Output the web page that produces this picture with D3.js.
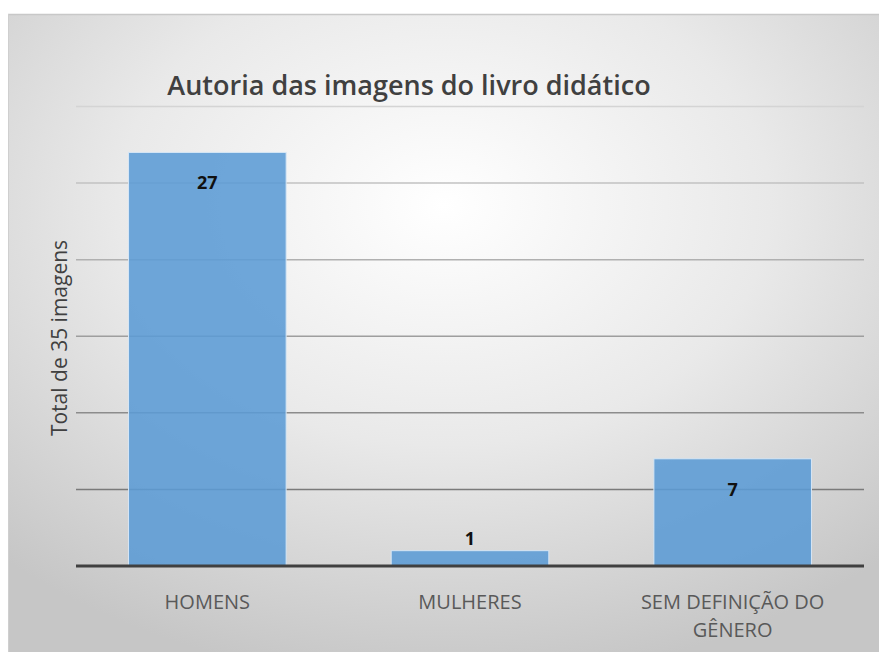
<!DOCTYPE html>
<html>
<head>
<meta charset="utf-8">
<script src="https://cdn.jsdelivr.net/npm/d3@7"></script>
<style>
  body { margin: 0; background: #fff; }
  svg { display: block; }
</style>
</head>
<body>
<div id="chart"></div>
<script>
// chart data
const categories = ['HOMENS', 'MULHERES', 'SEM DEFINIÇÃO DO GÊNERO'];
const categoryLines = [['HOMENS'], ['MULHERES'], ['SEM DEFINIÇÃO DO', 'GÊNERO']];
const values = [27, 1, 7];
const gridTicks = [0, 5, 10, 15, 20, 25, 30];
const titleText = 'Autoria das imagens do livro didático';
const yLabelText = 'Total de 35 imagens';

const W = 879, H = 652;
const margin = { top: 106.5, right: 15, bottom: 86, left: 76 };
const width = W - margin.left - margin.right;
const height = H - margin.top - margin.bottom;

const svg = d3.select('#chart')
  .append('svg')
  .attr('width', W)
  .attr('height', H);

// background gradient
const defs = svg.append('defs');
const bg = defs.append('radialGradient')
  .attr('id', 'bg')
  .attr('cx', '50%').attr('cy', '30%').attr('r', '75%');
bg.append('stop').attr('offset', '0%').attr('stop-color', '#ffffff');
bg.append('stop').attr('offset', '50%').attr('stop-color', '#e9e9e9');
bg.append('stop').attr('offset', '100%').attr('stop-color', '#c6c6c6');

svg.append('rect')
  .attr('x', 8).attr('y', 14)
  .attr('width', W - 8).attr('height', H - 14)
  .attr('fill', 'url(#bg)');
svg.append('line')
  .attr('x1', 8).attr('x2', W).attr('y1', 14.5).attr('y2', 14.5)
  .attr('stroke', '#c8c8c8').attr('stroke-width', 1.5);
svg.append('line')
  .attr('x1', 8.5).attr('x2', 8.5).attr('y1', 14).attr('y2', H)
  .attr('stroke', '#cfcfcf').attr('stroke-width', 1);

const g = svg.append('g')
  .attr('transform', 'translate(' + margin.left + ',' + margin.top + ')');

const xScale = d3.scaleBand()
  .domain(categories)
  .range([0, width])
  .paddingInner(0.4)
  .paddingOuter(0.2);

const yScale = d3.scaleLinear()
  .domain([0, 30])
  .range([height, 0]);

// gridlines, lighter towards the top
const gridColor = d3.scaleLinear().domain([30, 5]).range(['#d4d4d4', '#7a7a7a']);
g.selectAll('.grid')
  .data(gridTicks.filter(d => d > 0))
  .enter()
  .append('line')
  .attr('class', 'grid')
  .attr('x1', 0).attr('x2', width)
  .attr('y1', d => yScale(d)).attr('y2', d => yScale(d))
  .attr('stroke', d => gridColor(d))
  .attr('stroke-width', 1.5);

// bars
g.selectAll('.bar')
  .data(values)
  .enter()
  .append('rect')
  .attr('class', 'bar')
  .attr('x', (d, i) => xScale(categories[i]))
  .attr('y', d => yScale(d))
  .attr('width', xScale.bandwidth())
  .attr('height', d => height - yScale(d))
  .attr('fill', '#5b9bd5')
  .attr('fill-opacity', 0.88)
  .attr('stroke', '#d6e6f5')
  .attr('stroke-width', 1);

// baseline
g.append('line')
  .attr('x1', 0).attr('x2', width)
  .attr('y1', yScale(0)).attr('y2', yScale(0))
  .attr('stroke', '#404040')
  .attr('stroke-width', 3);

// value labels: inside end, above when the bar is too short
g.selectAll('.label')
  .data(values)
  .enter()
  .append('text')
  .attr('class', 'label')
  .attr('x', (d, i) => xScale(categories[i]) + xScale.bandwidth() / 2)
  .attr('y', d => (height - yScale(d) > 40) ? yScale(d) + 37 : yScale(d) - 6)
  .attr('text-anchor', 'middle')
  .attr('font-family', 'Open Sans, sans-serif')
  .attr('font-weight', 'bold')
  .attr('font-size', 18)
  .attr('fill', '#111')
  .text(d => d);

// category labels
const cat = g.selectAll('.cat')
  .data(categoryLines)
  .enter()
  .append('text')
  .attr('class', 'cat')
  .attr('x', (d, i) => xScale(categories[i]) + xScale.bandwidth() / 2)
  .attr('y', height + 43)
  .attr('text-anchor', 'middle')
  .attr('font-family', 'Open Sans, sans-serif')
  .attr('font-size', 20)
  .attr('fill', '#595959');
cat.selectAll('tspan')
  .data(d => d)
  .enter()
  .append('tspan')
  .attr('x', function() { return this.parentNode.getAttribute('x'); })
  .attr('dy', (d, i) => i === 0 ? 0 : 28)
  .text(d => d);

// title
svg.append('text')
  .attr('x', 409)
  .attr('y', 95)
  .attr('text-anchor', 'middle')
  .attr('font-family', 'Open Sans, sans-serif')
  .attr('font-weight', 600)
  .attr('font-size', 27)
  .attr('fill', '#404040')
  .text(titleText);

// y axis label
svg.append('text')
  .attr('transform', 'translate(67,338) rotate(-90)')
  .attr('text-anchor', 'middle')
  .attr('font-family', 'Open Sans, sans-serif')
  .attr('font-size', 21)
  .attr('fill', '#404040')
  .text(yLabelText);
</script>
</body>
</html>
